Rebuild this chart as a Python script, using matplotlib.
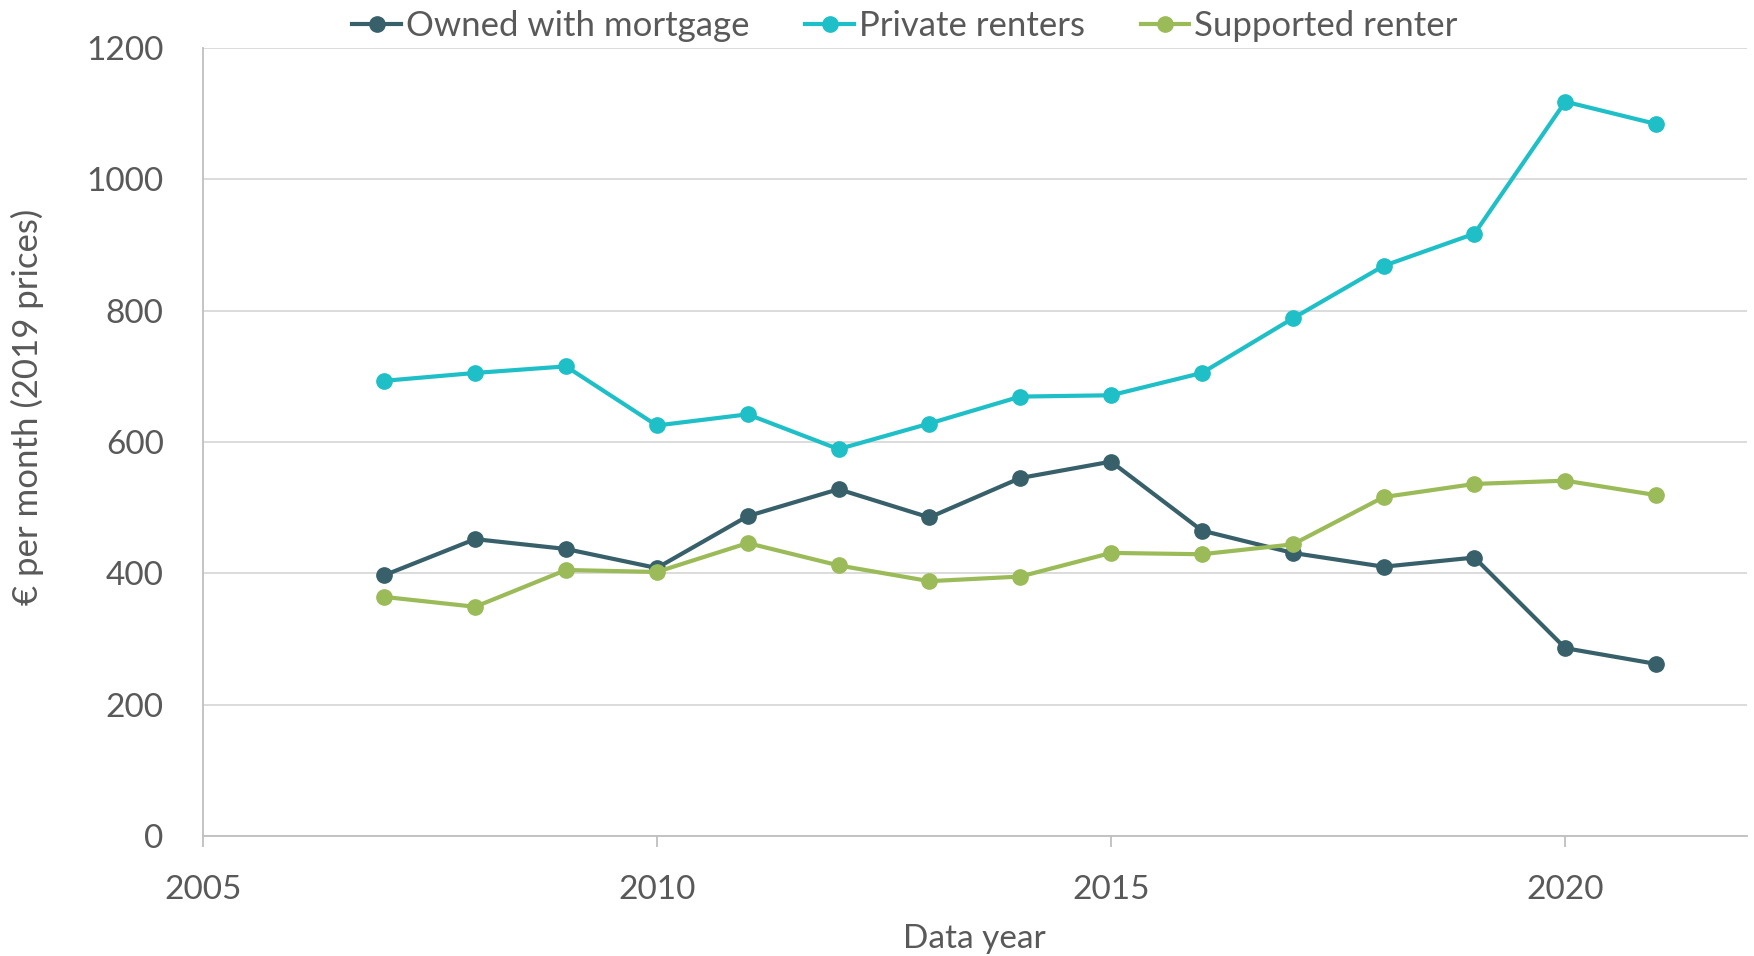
import matplotlib
matplotlib.use("Agg")
import matplotlib.pyplot as plt

years = list(range(2007, 2022))
owned_mortgage = [397, 452, 437, 408, 487, 528, 485, 545, 570, 465, 431, 410, 424, 286, 262]
private_renters = [693, 705, 715, 625, 642, 589, 628, 669, 671, 705, 788, 868, 917, 1118, 1084]
supported_renter = [364, 349, 405, 402, 446, 412, 388, 395, 431, 429, 444, 516, 536, 541, 519]

series_names = ["Owned with mortgage", "Private renters", "Supported renter"]
colors = ["#37606A", "#1FBFC8", "#9BBB59"]

x_ticks = [2005, 2010, 2015, 2020]
y_ticks = [0, 200, 400, 600, 800, 1000, 1200]

plt.rcParams['font.family'] = ['Lato', 'DejaVu Sans']
text_color = "#595959"

fig = plt.figure(figsize=(17.54, 9.56), dpi=100)
ax = fig.add_axes([0.1155, 0.1255, 0.8805, 0.8245])

for name, vals, c in zip(series_names, [owned_mortgage, private_renters, supported_renter], colors):
    ax.plot(years, vals, color=c, lw=3.0, marker='o', markersize=11, label=name)

ax.set_xlim(2005, 2022)
ax.set_ylim(0, 1200)
ax.set_xticks(x_ticks)
ax.set_yticks(y_ticks)
ax.grid(axis='y', color='#D9D9D9', lw=1.3)
ax.set_axisbelow(True)
for s in ['top', 'right']:
    ax.spines[s].set_visible(False)
for s in ['left', 'bottom']:
    ax.spines[s].set_color('#BFBFBF')
    ax.spines[s].set_linewidth(1.3)
ax.tick_params(axis='y', length=0, labelsize=24, labelcolor=text_color, pad=28)
ax.tick_params(axis='x', length=8, width=1.3, color='#BFBFBF', labelsize=24, labelcolor=text_color, pad=20)

ax.set_xlabel("Data year", fontsize=24, color=text_color, labelpad=14)
ax.set_ylabel("€ per month (2019 prices)", fontsize=25, color=text_color)
ax.yaxis.set_label_coords(-0.103, 0.545)

leg = fig.legend(loc='upper center', bbox_to_anchor=(0.516, 1.022), ncol=3, frameon=False,
                 fontsize=25, handlelength=1.4, handletextpad=0.15, columnspacing=1.6)
for t in leg.get_texts():
    t.set_color(text_color)

fig.savefig("out.png", dpi=100)
